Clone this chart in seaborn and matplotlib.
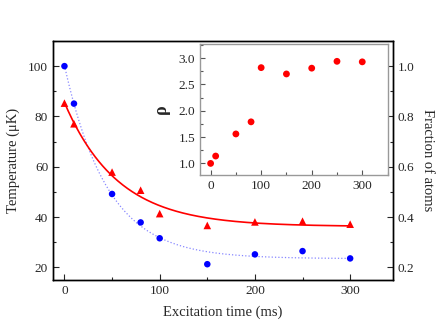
import matplotlib
matplotlib.use("Agg")
import matplotlib.pyplot as plt
from matplotlib.ticker import AutoMinorLocator, MultipleLocator
import seaborn as sns
import numpy as np
import pandas as pd

# excitation times (ms)
times = [0, 10, 50, 80, 100, 150, 200, 250, 300]
# temperature (uK), blue circles, left axis
temperature = [100.0, 85.1, 49.2, 37.9, 31.6, 21.3, 25.2, 26.5, 23.6]
# fraction of atoms, red triangles, right axis
fraction = [0.853, 0.771, 0.579, 0.507, 0.414, 0.367, 0.381, 0.384, 0.372]
# inset: rho
rho = [1.00, 1.14, 1.56, 1.79, 2.82, 2.70, 2.81, 2.94, 2.93]


def exp_fit(x, y):
    """Least-squares fit of y = a + b*exp(-x/tau), tau by grid search."""
    x = np.asarray(x, float)
    y = np.asarray(y, float)
    best = None
    for tau in np.arange(5, 300, 0.5):
        M = np.column_stack([np.ones_like(x), np.exp(-x / tau)])
        coef, res, _, _ = np.linalg.lstsq(M, y, rcond=None)
        err = np.sum((M @ coef - y) ** 2)
        if best is None or err < best[0]:
            best = (err, coef, tau)
    _, (a, b), tau = best
    xs = np.linspace(x.min(), x.max(), 300)
    return xs, a + b * np.exp(-xs / tau)


sns.set_style("ticks")
plt.rcParams['font.family'] = ['Liberation Serif', 'DejaVu Serif']
plt.rcParams['xtick.direction'] = 'in'
plt.rcParams['ytick.direction'] = 'in'

fig = plt.figure(figsize=(4.36, 3.33), dpi=100)
ax = fig.add_axes([0.1216, 0.159, 0.7798, 0.718])
ax2 = ax.twinx()

df = pd.DataFrame({'t': times, 'T': temperature, 'f': fraction, 'rho': rho})

# temperature on left axis
bx, by = exp_fit(times, temperature)
sns.lineplot(x=bx, y=by, ax=ax, color='#8888ff', lw=0.9, linestyle=':')
sns.scatterplot(data=df, x='t', y='T', ax=ax, color='#0000ff', s=22,
                edgecolor='none', zorder=3)

# fraction of atoms on right axis
rx, ry = exp_fit(times, fraction)
sns.lineplot(x=rx, y=ry, ax=ax2, color='#ff0000', lw=1.2)
sns.scatterplot(data=df, x='t', y='f', ax=ax2, color='#ff0000', s=30,
                marker='^', edgecolor='none', zorder=3)

ax.set_xlim(-12, 345)
ax.set_ylim(15, 110)
ax2.set_ylim(0.15, 1.10)
ax.xaxis.set_major_locator(MultipleLocator(100))
ax.xaxis.set_minor_locator(AutoMinorLocator(2))
ax.yaxis.set_major_locator(MultipleLocator(20))
ax.yaxis.set_minor_locator(AutoMinorLocator(2))
ax2.yaxis.set_major_locator(MultipleLocator(0.2))
ax2.yaxis.set_minor_locator(AutoMinorLocator(2))

ax.tick_params(axis='both', which='major', length=4, width=0.8, labelsize=9.5,
               top=False, right=False)
ax.tick_params(axis='both', which='minor', length=2.5, width=0.8,
               top=False, right=False)
ax2.tick_params(axis='y', which='major', length=4, width=0.8, labelsize=9.5)
ax2.tick_params(axis='y', which='minor', length=2.5, width=0.8)

ax.set_xlabel('Excitation time (ms)', fontsize=10.5, labelpad=6)
ax.set_ylabel('Temperature (μK)', fontsize=10.5, labelpad=6)
ax2.set_ylabel('Fraction of atoms', fontsize=10.5, rotation=270, labelpad=14)
for a in (ax, ax2):
    for s in a.spines.values():
        s.set_color('black')
        s.set_linewidth(1.0)

# inset
axin = fig.add_axes([0.4587, 0.4745, 0.4313, 0.3935])
axin.set_facecolor('white')
sns.scatterplot(data=df, x='t', y='rho', ax=axin, color='#ff0000', s=24,
                edgecolor='none')
axin.set_xlim(-21, 351)
axin.set_ylim(0.78, 3.27)
axin.xaxis.set_major_locator(MultipleLocator(100))
axin.xaxis.set_minor_locator(AutoMinorLocator(2))
axin.yaxis.set_major_locator(MultipleLocator(0.5))
axin.yaxis.set_minor_locator(AutoMinorLocator(2))
axin.tick_params(axis='both', which='major', length=3.5, width=0.8,
                 labelsize=9.5, color='#555555')
axin.tick_params(axis='both', which='minor', length=2, width=0.8,
                 color='#555555')
axin.set_xlabel('')
axin.set_ylabel('ρ', fontsize=13, fontweight='bold', labelpad=6)
for s in axin.spines.values():
    s.set_color('#999999')
    s.set_linewidth(1.0)

fig.savefig('out.png', dpi=100)
